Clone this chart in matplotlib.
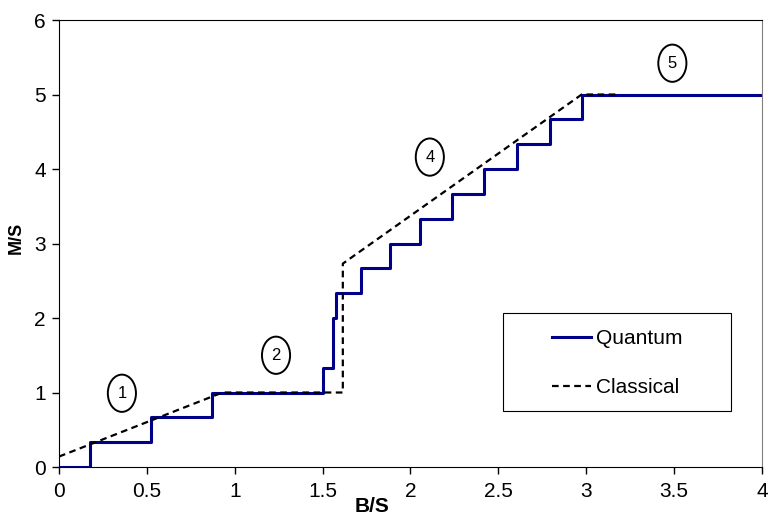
import numpy as np
import matplotlib.pyplot as plt
from matplotlib.patches import Ellipse, Rectangle

plt.rcParams['font.family'] = ['Liberation Sans', 'DejaVu Sans']

# quantum staircase (step edges, y holds until the next x)
quantum_x = [0, 0.176, 0.523, 0.869, 1.50, 1.561, 1.576, 1.717, 1.883,
             2.054, 2.234, 2.42, 2.604, 2.794, 2.974, 4.0]
quantum_y = [0, 1/3, 2/3, 1.0, 4/3, 2.0, 7/3, 8/3, 3.0,
             10/3, 11/3, 4.0, 13/3, 14/3, 5.0, 5.0]

# classical piecewise-linear curve
classical_x = [0, 0.93, 1.615, 1.615, 2.974, 3.19]
classical_y = [0.14, 1.0, 1.0, 2.73, 5.0, 5.0]

# circled region numbers
region_labels = ['1', '2', '4', '5']
region_x = [0.358, 1.235, 2.11, 3.49]
region_y = [0.99, 1.50, 4.16, 5.42]

fig = plt.figure(figsize=(7.7, 5.17), dpi=100)
ax = fig.add_axes([0.0766, 0.0967, 0.9130, 0.8646])

ax.step(quantum_x, quantum_y, where='post', color='#00008b', lw=2.2,
        label='Quantum', zorder=2)
ax.plot(classical_x, classical_y, color='black', lw=1.6,
        linestyle=(0, (3, 2)), label='Classical', zorder=3)

for lab, x, y in zip(region_labels, region_x, region_y):
    ax.add_patch(Ellipse((x, y), 0.16, 0.5, fill=False, lw=1.4,
                         edgecolor='black'))
    ax.text(x, y, lab, ha='center', va='center', fontsize=12)

ax.set_xlim(0, 4)
ax.set_ylim(0, 6)
ax.set_xticks(np.arange(0, 4.01, 0.5))
ax.set_xticklabels(['0', '0.5', '1', '1.5', '2', '2.5', '3', '3.5', '4'])
ax.set_yticks(range(7))
ax.tick_params(direction='out', length=5, width=1, labelsize=15,
               colors='black')
ax.tick_params(axis='x', pad=6)
ax.tick_params(axis='y', pad=4.5)
ax.spines['right'].set_color('#808080')

ax.set_xlabel('B/S', fontsize=15, fontweight='bold')
ax.xaxis.set_label_coords(0.445, -0.066)
ax.set_ylabel('M/S', fontsize=13, fontweight='bold')
ax.yaxis.set_label_coords(-0.049, 0.512)

# legend box drawn separately so it can be wider than the entries need
ax.add_patch(Rectangle((0.632, 0.1253), 0.324, 0.2192, transform=ax.transAxes,
                       fill=True, facecolor='white', edgecolor='black',
                       lw=0.8, zorder=4))
leg = ax.legend(loc='center', bbox_to_anchor=(0.794, 0.2327),
                fontsize=15, frameon=False, handlelength=1.9,
                handletextpad=0.25, labelspacing=1.45, borderpad=0,
                borderaxespad=0)
leg.set_zorder(5)

fig.savefig('out.png', dpi=100)
